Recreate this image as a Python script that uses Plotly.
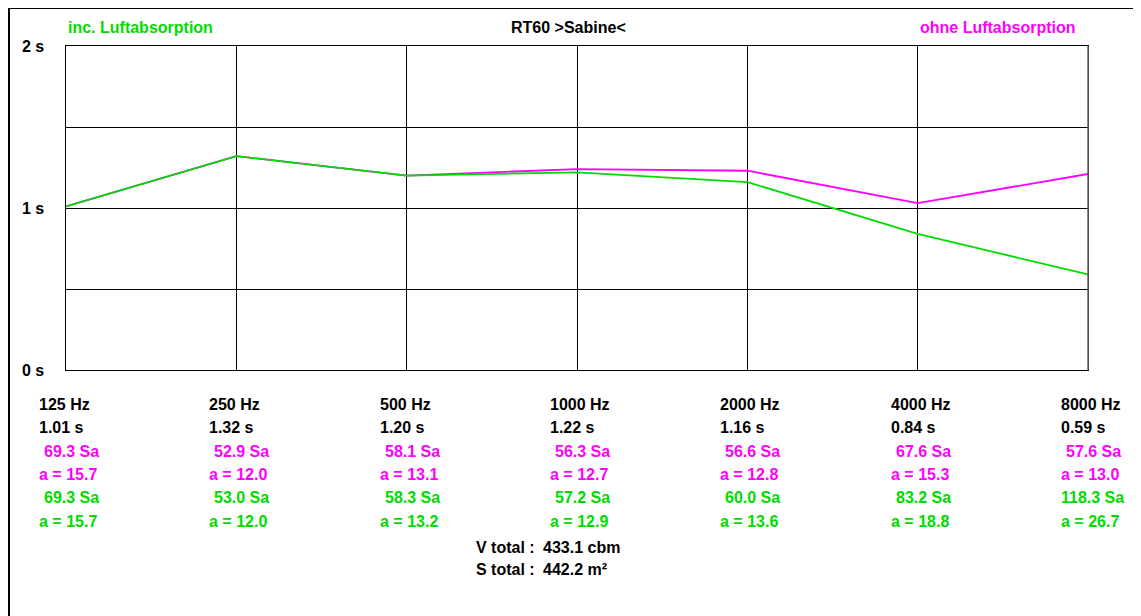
import plotly.graph_objects as go

freq_labels = ["125 Hz", "250 Hz", "500 Hz", "1000 Hz", "2000 Hz", "4000 Hz", "8000 Hz"]
rt_with_air = [1.01, 1.32, 1.20, 1.22, 1.16, 0.84, 0.59]
rt_without_air = [1.01, 1.32, 1.20, 1.24, 1.23, 1.03, 1.21]
sa_without_air = [69.3, 52.9, 58.1, 56.3, 56.6, 67.6, 57.6]
a_without_air = [15.7, 12.0, 13.1, 12.7, 12.8, 15.3, 13.0]
sa_with_air = [69.3, 53.0, 58.3, 57.2, 60.0, 83.2, 118.3]
a_with_air = [15.7, 12.0, 13.2, 12.9, 13.6, 18.8, 26.7]
y_tick_vals = [0, 1, 2]
y_tick_text = ["0 s", "1 s", "2 s"]
v_total = 433.1
s_total = 442.2

GREEN = "#00DC00"
MAGENTA = "#FF00FF"
FONT = "Liberation Sans, Arial, sans-serif"
FS = 16

OFF = 8  # page body margin
W, H = 1141 - OFF, 616 - OFF
# plot area in page pixels
L, R, T, B = 66, 1088, 46, 370

x_idx = list(range(len(freq_labels)))

fig = go.Figure()
fig.add_trace(go.Scatter(x=x_idx, y=rt_without_air, mode="lines",
                         line=dict(color=MAGENTA, width=1.8), hoverinfo="skip"))
fig.add_trace(go.Scatter(x=x_idx, y=rt_with_air, mode="lines",
                         line=dict(color=GREEN, width=1.8), hoverinfo="skip"))

ann = []

def txt(text, color="black", **kw):
    d = dict(text=text, showarrow=False,
             font=dict(family=FONT, size=FS, color=color, weight="bold"))
    d.update(kw)
    ann.append(d)

def ypx(py):
    return dict(yref="paper", y=0, yshift=B - py, yanchor="middle")

# header
txt("inc. Luftabsorption", GREEN, xref="paper", x=0, xanchor="left", **ypx(27))
txt("RT60 >Sabine<", "black", xref="paper", x=0.5, xshift=-9, xanchor="center", **ypx(27))
txt("ohne Luftabsorption", MAGENTA, xref="paper", x=1, xshift=-10, xanchor="right", **ypx(27))

# y tick labels
for v, t in zip(y_tick_vals, y_tick_text):
    txt(t, "black", xref="paper", x=0, xshift=-20, xanchor="right",
        yref="y", y=v, yanchor="middle")

# per-frequency table
rows = [404, 427, 451, 474, 497, 521]
for i in x_idx:
    base = dict(xref="x", x=i, xanchor="left")
    txt(freq_labels[i], "black", xshift=-29, **base, **ypx(rows[0]))
    txt(f"{rt_with_air[i]:.2f} s", "black", xshift=-29, **base, **ypx(rows[1]))
    sh = -24 if sa_without_air[i] < 100 else -29
    txt(f"{sa_without_air[i]:.1f} Sa", MAGENTA, xshift=sh, **base, **ypx(rows[2]))
    txt(f"a = {a_without_air[i]:.1f}", MAGENTA, xshift=-29, **base, **ypx(rows[3]))
    sh = -24 if sa_with_air[i] < 100 else -29
    txt(f"{sa_with_air[i]:.1f} Sa", GREEN, xshift=sh, **base, **ypx(rows[4]))
    txt(f"a = {a_with_air[i]:.1f}", GREEN, xshift=-29, **base, **ypx(rows[5]))

# totals
txt("V total :", "black", xref="x", x=2.4, xshift=-1, xanchor="left", **ypx(547))
txt(f"{v_total:.1f} cbm", "black", xref="x", x=2.4, xshift=66, xanchor="left", **ypx(547))
txt("S total :", "black", xref="x", x=2.4, xshift=-1, xanchor="left", **ypx(569))
txt(f"{s_total:.1f} m²", "black", xref="x", x=2.4, xshift=66, xanchor="left", **ypx(569))

pw = R - L
ph = B - T
def px2x(px):
    return (px - L) / pw
def py2y(py):
    return (B - py) / ph

shapes = [
    dict(type="line", xref="paper", yref="paper", x0=px2x(9), x1=px2x(1141 + 5),
         y0=py2y(8), y1=py2y(8), line=dict(color="black", width=2)),
    dict(type="line", xref="paper", yref="paper", x0=px2x(9), x1=px2x(9),
         y0=py2y(8), y1=py2y(616 + 5), line=dict(color="black", width=2)),
    dict(type="line", xref="paper", yref="paper", x0=1, x1=1, y0=0, y1=1,
         line=dict(color="#666666", width=1.5)),
]

fig.update_layout(
    width=W, height=H,
    margin=dict(l=L - OFF, r=1141 - R, t=T - OFF, b=616 - B, pad=0),
    paper_bgcolor="white", plot_bgcolor="white",
    showlegend=False,
    annotations=ann,
    shapes=shapes,
    xaxis=dict(range=[0, 6], tickvals=x_idx, showticklabels=False, ticks="",
               showgrid=True, gridcolor="black", gridwidth=1,
               showline=True, linecolor="black", linewidth=1, mirror=True,
               zeroline=False, fixedrange=True),
    yaxis=dict(range=[0, 2], tickvals=[0, 0.5, 1, 1.5, 2], showticklabels=False, ticks="",
               showgrid=True, gridcolor="black", gridwidth=1,
               showline=True, linecolor="black", linewidth=1, mirror=True,
               zeroline=False, fixedrange=True),
)

fig.write_html("out.html", config={"displayModeBar": False})
